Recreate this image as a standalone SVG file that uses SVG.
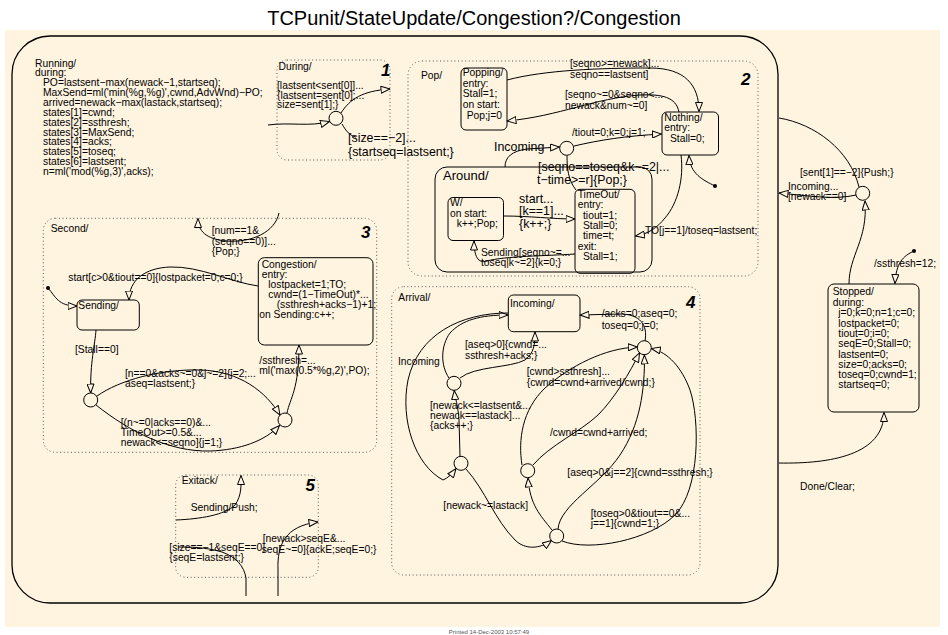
<svg xmlns="http://www.w3.org/2000/svg" width="948" height="635" viewBox="0 0 948 635">
<style>
text{font-family:"Liberation Sans",Arial,Helvetica,sans-serif;font-size:10.3px;fill:#000}
.L{font-size:12.4px}
.n{font-size:17px;font-weight:bold;font-style:italic}
.st{fill:none;stroke:#000;stroke-width:1}
.and{fill:none;stroke:#555;stroke-width:1;stroke-dasharray:1 2.6}
.c{fill:none;stroke:#000;stroke-width:1}
.ca{fill:none;stroke:#000;stroke-width:1;marker-end:url(#a)}
.j{fill:#FFF4E0;stroke:#000;stroke-width:1}
.d{fill:#000}
</style>
<defs>
<marker id="a" viewBox="0 0 10 8" refX="9.5" refY="4" markerWidth="10" markerHeight="8" orient="auto" markerUnits="userSpaceOnUse"><path d="M0.5,0.5 L9.5,4 L0.5,7.5 Z" fill="#FFF4E0" stroke="#000" stroke-width="1"/></marker>
</defs>
<rect x="0" y="0" width="948" height="635" fill="#fff"/>
<rect x="5" y="30" width="935" height="597" fill="#FFF4E0"/>
<text x="474" y="25" text-anchor="middle" style="font-size:20px">TCPunit/StateUpdate/Congestion?/Congestion</text>

<g id="Running">
<rect x="12" y="36" width="766" height="567" rx="38" class="st" style="stroke-width:1.3"/>
<text x="35" y="66.5">Running/</text>
<text x="35" y="76.4">during:</text>
<text x="43" y="86.2">PO=lastsent−max(newack−1,startseq);</text>
<text x="43" y="96.1">MaxSend=ml('min(%g,%g)',cwnd,AdvWnd)−PO;</text>
<text x="43" y="105.9">arrived=newack−max(lastack,startseq);</text>
<text x="43" y="115.8">states[1]=cwnd;</text>
<text x="43" y="125.6">states[2]=ssthresh;</text>
<text x="43" y="135.5">states[3]=MaxSend;</text>
<text x="43" y="145.3">states[4]=acks;</text>
<text x="43" y="155.2">states[5]=toseq;</text>
<text x="43" y="165">states[6]=lastsent;</text>
<text x="43" y="174.9">n=ml('mod(%g,3)',acks);</text>
</g>

<g id="During">
<rect x="277" y="60" width="113" height="100" rx="10" class="and"/>
<text x="278.5" y="69.5">During/</text>
<text x="381" y="76" class="n">1</text>
<text x="277" y="89.3">[lastsent&lt;sent[0]]...</text>
<text x="277" y="98.8">{lastsent=sent[0];...</text>
<text x="277" y="108.3">size=sent[1];}</text>
<circle cx="336" cy="118.3" r="7" class="j"/>
<text x="348" y="142" class="L">[size==−2]...</text>
<text x="348" y="156" class="L">{startseq=lastsent;}</text>
</g>

<g id="Pop">
<rect x="408" y="61" width="350" height="215" rx="14" class="and"/>
<text x="421" y="79">Pop/</text>
<text x="741" y="85" class="n">2</text>
<circle cx="566.7" cy="148.3" r="7" class="j"/>
</g>

<g id="Popping">
<rect x="461" y="68" width="46" height="62" rx="5" class="st"/>
<text x="462.7" y="76">Popping/</text>
<text x="462.7" y="86.7">entry:</text>
<text x="462.7" y="97.4">Stall=1;</text>
<text x="462.7" y="108.1">on start:</text>
<text x="466.7" y="118.8">Pop;j=0</text>
</g>

<g id="Nothing">
<rect x="662" y="112" width="56.5" height="43" rx="5" class="st"/>
<text x="664.3" y="120.7">Nothing/</text>
<text x="664.3" y="131.3">entry:</text>
<text x="670" y="142">Stall=0;</text>
</g>

<g id="Around">
<rect x="435" y="167" width="217" height="105" rx="12" class="st"/>
<text x="443" y="180" style="font-size:13px">Around/</text>
</g>

<g id="W">
<rect x="448" y="197.5" width="55.5" height="43" rx="5" class="st"/>
<text x="450" y="205.5">W/</text>
<text x="450" y="216.5">on start:</text>
<text x="456.7" y="227">k++;Pop;</text>
</g>

<g id="TimeOut">
<rect x="575" y="189.3" width="60" height="84" rx="5" class="st"/>
<text x="577.7" y="198">TimeOut/</text>
<text x="577.7" y="208.3">entry:</text>
<text x="583" y="218.6">tiout=1;</text>
<text x="583" y="228.9">Stall=0;</text>
<text x="583" y="239.2">time=t;</text>
<text x="577.7" y="249.5">exit:</text>
<text x="583" y="259.8">Stall=1;</text>
</g>

<g id="Second">
<rect x="43.3" y="218.3" width="333.4" height="234" rx="12" class="and"/>
<text x="50.7" y="232.3">Second/</text>
<text x="361" y="238" class="n">3</text>
<circle cx="90.7" cy="400" r="7" class="j"/>
<circle cx="285" cy="420" r="7" class="j"/>
</g>

<g id="Congestion">
<rect x="258.3" y="257.7" width="114.7" height="87.3" rx="6" class="st"/>
<text x="261.7" y="268.3">Congestion/</text>
<text x="261.7" y="278.3">entry:</text>
<text x="268.3" y="288.3">lostpacket=1;TO;</text>
<text x="268.3" y="298.3">cwnd=(1−TimeOut)*...</text>
<text x="276.7" y="308.3">(ssthresh+acks−1)+1;</text>
<text x="259.3" y="318.3">on Sending:c++;</text>
</g>

<g id="Sending">
<rect x="77" y="300" width="62.3" height="30" rx="5" class="st"/>
<text x="78.3" y="309">Sending/</text>
</g>

<g id="Arrival">
<rect x="391.7" y="286.7" width="308.3" height="288.3" rx="12" class="and"/>
<text x="398.3" y="301">Arrival/</text>
<text x="686" y="308" class="n">4</text>
<circle cx="644.3" cy="347.7" r="7" class="j"/>
<circle cx="454" cy="383.3" r="7" class="j"/>
<circle cx="461" cy="463.3" r="7" class="j"/>
<circle cx="527.7" cy="470.7" r="7" class="j"/>
<circle cx="556.7" cy="536" r="7" class="j"/>
</g>

<g id="Incoming">
<rect x="508.3" y="295" width="71.7" height="36.7" rx="5" class="st"/>
<text x="510" y="306.7">Incoming/</text>
</g>

<g id="Exitack">
<rect x="175.7" y="475" width="142.6" height="102.3" rx="10" class="and"/>
<text x="181.7" y="484">Exitack/</text>
<text x="305.5" y="491" class="n">5</text>
</g>

<g id="Stopped">
<rect x="828" y="284" width="91" height="128" rx="6" class="st"/>
<text x="832.7" y="295">Stopped/</text>
<text x="832.7" y="305.5">during:</text>
<text x="838.3" y="316.3">j=0;k=0;n=1;c=0;</text>
<text x="838.3" y="326.6">lostpacket=0;</text>
<text x="838.3" y="336.9">tiout=0;i=0;</text>
<text x="838.3" y="347.2">seqE=0;Stall=0;</text>
<text x="838.3" y="357.5">lastsent=0;</text>
<text x="838.3" y="367.8">size=0;acks=0;</text>
<text x="838.3" y="378.1">toseq=0;cwnd=1;</text>
<text x="838.3" y="388.4">startseq=0;</text>
</g>

<g id="RunJunction">
<circle cx="862.7" cy="193.3" r="7" class="j"/>
</g>

<g id="connectors">
<path class="ca" d="M 268 125 C 290 122, 310 127, 329.5 121.5"/>
<path class="ca" d="M 341 113 C 350 99, 362 91, 390 89"/>
<path class="c" d="M 342 124 C 346 131, 350 136, 356 137"/>

<path class="ca" d="M 507 80 C 545 70, 600 68, 650 68 C 685 68, 699 85, 699 111.5"/>
<path class="ca" d="M 679 112 C 676 97, 662 94, 640 95 C 595 98, 560 116, 507 121"/>
<path class="ca" d="M 505 167 C 505 157, 512 151, 527 149 L 559.5 147"/>
<path class="ca" d="M 574 146 C 600 140, 625 136, 661.5 134"/>
<path class="c" d="M 567 155.5 C 567 168, 568 180, 576 190"/>
<path class="ca" d="M 681 155 C 684 178, 678 203, 665 218 C 657 228, 648 234, 635.5 236"/>
<path class="ca" d="M 715 186 C 703 180, 690 174, 689 155.5"/>
<circle class="d" cx="715" cy="186" r="2"/>
<path class="ca" d="M 503.5 216 C 530 216, 552 219, 575 219"/>
<path class="ca" d="M 575 254 C 545 256, 505 256, 487 261 C 478 264, 474 256, 474 241"/>

<path class="c" d="M 779 118 C 815 124, 850 150, 859 187"/>
<path class="ca" d="M 856 195 C 835 200, 810 196, 779 193"/>
<path class="ca" d="M 849 284 C 849 255, 868 240, 865 201"/>
<path class="ca" d="M 914 251 C 903 256, 896 263, 895 283.5"/>
<circle class="d" cx="914" cy="251" r="2"/>
<path class="ca" d="M 779 463 C 830 464, 884 455, 884 412.5"/>

<path class="ca" d="M 48 288 C 56 297, 58 306, 77 306"/>
<circle class="d" cx="48" cy="288" r="2"/>
<path class="ca" d="M 258 286 C 230 282, 200 266, 170 267 C 145 268, 129 280, 129 300"/>
<path class="ca" d="M 279 213 C 275 232, 252 243, 226 241 C 206 239, 198 231, 198 218.5"/>
<path class="ca" d="M 96 330 C 95 345, 90 362, 90.7 393"/>
<path class="ca" d="M 97 396 C 120 380, 160 369, 200 370 C 240 371, 266 392, 280 415"/>
<path class="ca" d="M 96 405 C 130 432, 170 452, 210 451 C 240 450, 265 441, 279.5 425.5"/>
<path class="ca" d="M 287 413 C 290 398, 299 390, 299 345"/>

<path class="ca" d="M 645 341 C 648 325, 640 314, 620 314 L 580 315"/>
<path class="ca" d="M 460 378 C 475 366, 510 368, 525 360 C 534 353, 535 345, 535 332"/>
<path class="ca" d="M 449 378 C 440 365, 441 345, 450 333 C 462 320, 480 315, 508 315"/>
<path class="c" d="M 508 313 C 460 313, 418 335, 408 380 C 400 420, 415 465, 443 480"/>
<path class="ca" d="M 443 480 C 448 478, 452 474, 456 468.5"/>
<path class="ca" d="M 460 456 L 459 420 C 458 405, 455 398, 454.3 390.5"/>
<path class="ca" d="M 466 469 C 485 490, 495 520, 515 540 C 525 550, 540 549, 551.5 540.5"/>
<path class="ca" d="M 552 530 C 540 515, 530 505, 528 478"/>
<path class="ca" d="M 522 465 C 518 440, 522 410, 545 388 C 570 366, 605 348, 637.3 347"/>
<path class="ca" d="M 533 465 C 550 445, 580 432, 598 415 C 615 398, 630 372, 639.5 353"/>
<path class="ca" d="M 558 529 C 560 505, 600 485, 620 455 C 640 425, 645 390, 644.4 355"/>
<path class="ca" d="M 562 541 C 590 552, 650 540, 675 515 C 700 490, 700 420, 690 390 C 682 368, 668 352, 651.3 348.5"/>

<path class="ca" d="M 176 520 C 200 519, 225 515, 235 505 C 242 495, 241 485, 241 475.5"/>
<path class="c" d="M 246 596 L 246 578 C 244 566, 236 557, 222 552 C 205 547, 190 547, 178 547"/>
<path class="ca" d="M 278 596 L 278 570 C 277 545, 285 526, 318 522"/>
</g>

<g id="labels">
<text x="570" y="67">[seqno&gt;=newack]...</text>
<text x="570" y="77.5">seqno==lastsent]</text>
<text x="565" y="98">[seqno~=0&amp;seqno&lt;...</text>
<text x="565" y="108.5">newack&amp;num~=0]</text>
<text x="572" y="136">/tiout=0;k=0;j=1;</text>
<text x="494" y="151" class="L">Incoming</text>
<text x="538" y="170.5" class="L">[seqno==toseq&amp;k~=2|...</text>
<text x="537" y="183.5" class="L">t−time&gt;=r]{Pop;}</text>
<text x="519" y="202.5" class="L">start...</text>
<text x="519" y="215" class="L">[k==1]...</text>
<text x="519" y="227.5" class="L">{k++;}</text>
<text x="481" y="256">Sending[seqno~=...</text>
<text x="481" y="266">toseq|k~=2]{k=0;}</text>
<text x="645" y="234">TO[j==1]/toseq=lastsent;</text>

<text x="800" y="176">[sent[1]==−2]{Push;}</text>
<text x="788" y="189.5">Incoming...</text>
<text x="788" y="199.5">[newack==0]</text>
<text x="874" y="266.7">/ssthresh=12;</text>
<text x="800" y="490">Done/Clear;</text>

<text x="211.7" y="234.3">[num==1&amp;</text>
<text x="211.7" y="244.6">(seqno==0)]...</text>
<text x="211.7" y="254.9">{Pop;}</text>
<text x="68.3" y="281">start[c&gt;0&amp;tiout==0]{lostpacket=0;c=0;}</text>
<text x="75" y="353.3">[Stall==0]</text>
<text x="125" y="376.7">[n==0&amp;acks~=0&amp;j~=2]{j=2;...</text>
<text x="125" y="386.7">aseq=lastsent;}</text>
<text x="259.3" y="364">/ssthresh=...</text>
<text x="259.3" y="374">ml('max(0.5*%g,2)',PO);</text>
<text x="120.7" y="426">[(n~=0|acks==0)&amp;...</text>
<text x="120.7" y="436">TimeOut&gt;=0.5&amp;...</text>
<text x="120.7" y="446">newack&lt;=seqno]{j=1;}</text>

<text x="601.7" y="317.3">/acks=0;aseq=0;</text>
<text x="601.7" y="328.5">toseq=0;j=0;</text>
<text x="465" y="348.3">[aseq&gt;0]{cwnd=...</text>
<text x="465" y="359.3">ssthresh+acks;}</text>
<text x="398" y="365">Incoming</text>
<text x="526.7" y="375">[cwnd&gt;ssthresh]...</text>
<text x="526.7" y="386">{cwnd=cwnd+arrived/cwnd;}</text>
<text x="430" y="408.7">[newack&lt;=lastsent&amp;...</text>
<text x="430" y="418.5">newack==lastack]...</text>
<text x="430" y="428.8">{acks++;}</text>
<text x="550" y="436">/cwnd=cwnd+arrived;</text>
<text x="567.3" y="476">[aseq&gt;0&amp;j==2]{cwnd=ssthresh;}</text>
<text x="443.3" y="509.3">[newack~=lastack]</text>
<text x="590.7" y="516.7">[toseq&gt;0&amp;tiout==0&amp;...</text>
<text x="590.7" y="526.7">j==1]{cwnd=1;}</text>

<text x="190.7" y="511">Sending/Push;</text>
<text x="169.3" y="551">[size==−1&amp;seqE==0]</text>
<text x="169.3" y="561">{seqE=lastsent;}</text>
<text x="262.7" y="542">[newack&gt;seqE&amp;...</text>
<text x="261.7" y="552.5">seqE~=0]{ackE;seqE=0;}</text>
</g>
<text x="489" y="634" text-anchor="middle" style="font-size:6px;fill:#555">Printed 14-Dec-2003 10:57:49</text>
</svg>
